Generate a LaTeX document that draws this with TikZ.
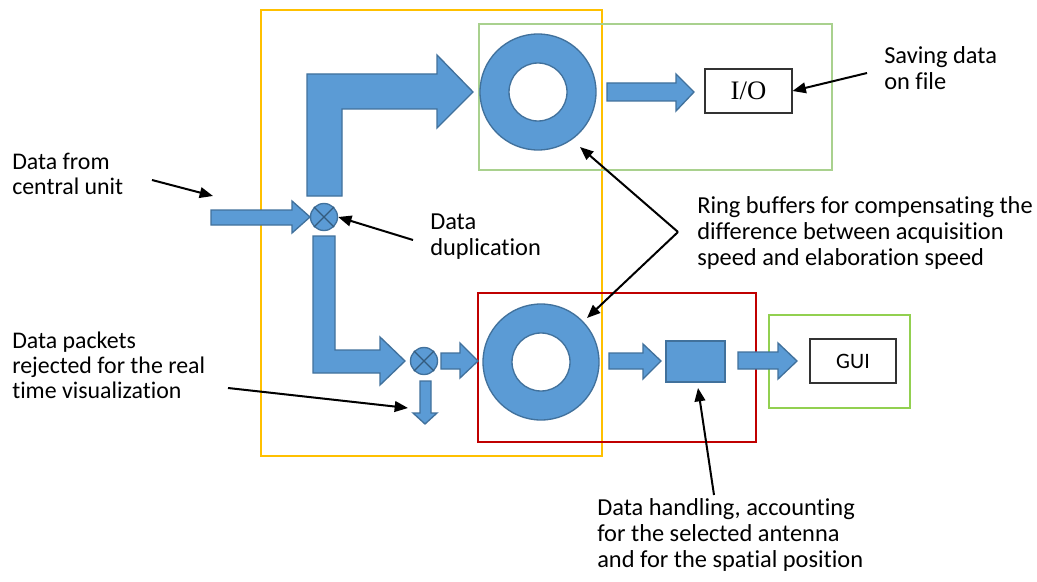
\documentclass[tikz,border=0pt]{standalone}
\usepackage{fontspec}
\setmainfont{Carlito}[Ligatures={NoCommon}]
\newfontfamily\seriffont{Liberation Serif}
\usetikzlibrary{arrows.meta}
\definecolor{blu}{HTML}{5B9BD5}
\definecolor{bdr}{HTML}{41719C}
\definecolor{yel}{HTML}{FFC000}
\definecolor{grn}{HTML}{A9D18E}
\definecolor{grn2}{HTML}{92D050}
\definecolor{rdd}{HTML}{C00000}
\tikzset{
  blk/.style={fill=blu, draw=bdr, line width=1pt, line join=miter},
  frame/.style={line width=1.5pt},
  ann/.style={draw=black, line width=1.5pt, -{Triangle[length=10pt,width=8pt]}},
  bigtxt/.style={anchor=base west, align=left, inner sep=0pt, font=\fontsize{18.3}{19.5}\selectfont},
  smalltxt/.style={anchor=base west, align=left, inner sep=0pt, font=\fontsize{17.9}{18.75}\selectfont},
  ringout/.style={circle, fill=blu, draw=bdr, line width=1pt, minimum size=116*0.75pt, inner sep=0pt},
  ringin/.style={circle, fill=white, draw=bdr, line width=1pt, minimum size=58*0.75pt, inner sep=0pt},
  mixer/.style={circle, fill=blu, draw=bdr, line width=1pt, minimum size=27*0.75pt, inner sep=0pt},
  whitebox/.style={draw=black!80, line width=0.8pt, fill=white, inner sep=0pt}
}
\begin{document}
\begin{tikzpicture}[x=0.75pt,y=-0.75pt]
\path[use as bounding box, fill=white] (0,0) rectangle (1037,581);

% container frames
\draw[frame, draw=yel] (261,10) rectangle (602,456);
\draw[frame, draw=grn] (479,24) rectangle (832,170);
\draw[frame, draw=rdd] (478,293) rectangle (756,442);
\draw[frame, draw=grn2] (769,315) rectangle (910,408);

% ring buffers
\node[ringout] (ring1) at (538,92) {};
\node[ringin] (hole1) at (538,92) {};
\node[ringout] (ring2) at (541,362) {};
\node[ringin] (hole2) at (541,362) {};

% mixers
\node[mixer] (mix1) at (324,217) {};
\draw[bdr!80!black, line width=1pt] (mix1.north west) -- (mix1.south east) (mix1.north east) -- (mix1.south west);
\node[mixer] (mix2) at (424,361) {};
\draw[bdr!80!black, line width=1pt] (mix2.north west) -- (mix2.south east) (mix2.north east) -- (mix2.south west);

% processing block, output boxes
\node[fill=blu, draw=bdr, line width=1pt, minimum width=59*0.75pt, minimum height=41*0.75pt, inner sep=0pt] (proc) at (695.5,361.5) {};
\node[whitebox, minimum width=87*0.75pt, minimum height=44*0.75pt, font=\seriffont\fontsize{20}{20}\selectfont] (io) at (748.5,91) {I/O};
\node[whitebox, minimum width=86*0.75pt, minimum height=44*0.75pt, font=\fontsize{16.5}{16.5}\selectfont] (gui) at (853,361) {GUI};

% block arrows
% input
\draw[blk] (211,210) -- (292,210) -- (292,201) -- (310,217) -- (292,233) -- (292,225) -- (211,225) -- cycle;
% upper bent arrow
\draw[blk] (307,196) -- (307,74) -- (437,74) -- (437,55) -- (473,92) -- (437,128) -- (437,109) -- (342,109) -- (342,196) -- cycle;
% lower bent arrow
\draw[blk] (313,236) -- (313,373) -- (380,373) -- (380,385) -- (405,361) -- (380,337) -- (380,350) -- (335,350) -- (335,236) -- cycle;
% mixer2 to ring2
\draw[blk] (441,353) -- (460,353) -- (460,343) -- (478,361) -- (460,378) -- (460,369) -- (441,369) -- cycle;
% rejected packets (down)
\draw[blk] (420,381) -- (431,381) -- (431,413) -- (437,413) -- (425,424) -- (413,413) -- (420,413) -- cycle;
% ring1 to I/O
\draw[blk] (607,83) -- (676,83) -- (676,74) -- (694,92) -- (676,111) -- (676,101) -- (607,101) -- cycle;
% ring2 to processing
\draw[blk] (609,353) -- (643,353) -- (643,344) -- (661,361) -- (643,379) -- (643,369) -- (609,369) -- cycle;
% processing to GUI
\draw[blk] (738,352) -- (778,352) -- (778,343) -- (797,361) -- (778,379) -- (778,369) -- (738,369) -- cycle;

% texts (base anchor = baseline of last line)
\node[smalltxt] (tfrom) at (12,194) {Data from\\central unit};
\node[smalltxt] (tpack) at (12,398) {Data packets\\rejected for the real\\time visualization};
\node[bigtxt] (tdup) at (430,255) {Data\\duplication};
\node[bigtxt] (tsave) at (884,90) {Saving data\\on file};
\node[bigtxt] (tring) at (697,265) {Ring buffers for compensating the\\difference between acquisition\\speed and elaboration speed};
\node[bigtxt] (thand) at (597,567) {Data handling, accounting\\for the selected antenna\\and for the spatial position};

% annotation arrows
\coordinate (afrom) at (152,180);
\coordinate (tipfrom) at (213,196);
\draw[ann] (afrom) -- (tipfrom);
\coordinate (adup) at (413,240);
\draw[ann] (adup) -- (mix1.east);
\coordinate (asave) at (867,73);
\draw[ann] (asave) -- (io.east);
\coordinate (aring) at (678,232);
\coordinate (tipring1) at (580,147);
\coordinate (tipring2) at (587,318);
\draw[ann] (aring) -- (tipring1);
\draw[ann] (aring) -- (tipring2);
\coordinate (apack) at (228,388);
\coordinate (tippack) at (408,408);
\draw[ann] (apack) -- (tippack);
\coordinate (ahand) at (714,495);
\coordinate (tiphand) at (698,388);
\draw[ann] (ahand) -- (tiphand);
\end{tikzpicture}
\end{document}
